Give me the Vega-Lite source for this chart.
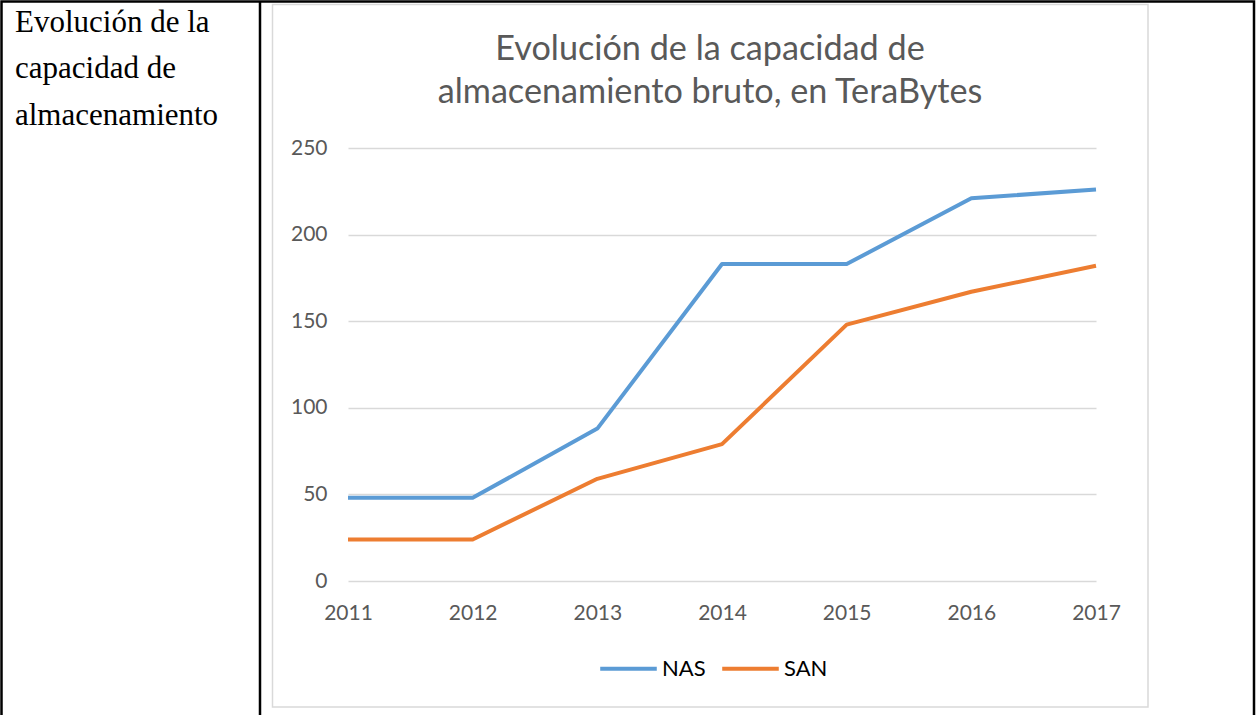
{
  "$schema": "https://vega.github.io/schema/vega-lite/v6.json",
  "width": 748,
  "height": 433,
  "autosize": "none",
  "padding": {"left": 348, "top": 148, "right": 160, "bottom": 134},
  "background": "white",
  "config": {
    "view": {"stroke": null},
    "font": "Lato",
    "axis": {"labelFont": "Lato", "labelFontSize": 21, "labelColor": "#595959", "domain": false, "ticks": false, "tickSize": 0, "title": null}
  },
  "title": {
    "text": ["Evolución de la capacidad de", "almacenamiento bruto, en TeraBytes"],
    "font": "Lato",
    "fontSize": 34.2,
    "fontWeight": "normal",
    "color": "#595959",
    "lineHeight": 43,
    "anchor": "middle",
    "dx": -12,
    "offset": -110
  },
  "layer": [
    {
      "data": {"values": [{}]},
      "mark": {"type": "rect", "fill": null, "stroke": "#000000", "strokeWidth": 2.5, "clip": false},
      "encoding": {
        "x": {"datum": 2008.2206, "type": "quantitative", "scale": {"domain": [2011, 2017], "nice": false, "zero": false}},
        "x2": {"datum": 2018.2674},
        "y": {"datum": 334.58, "type": "quantitative", "scale": {"domain": [0, 250], "nice": false}},
        "y2": {"datum": -103}
      }
    },
    {
      "data": {"values": [{}]},
      "mark": {"type": "rule", "stroke": "#000000", "strokeWidth": 2.5, "clip": false},
      "encoding": {
        "x": {"datum": 2010.2941, "type": "quantitative"},
        "y": {"datum": 334.58, "type": "quantitative"},
        "y2": {"datum": -103}
      }
    },
    {
      "data": {"values": [{}]},
      "mark": {"type": "rect", "fill": null, "stroke": "#d9d9d9", "strokeWidth": 1.5, "clip": false},
      "encoding": {
        "x": {"datum": 2010.3944, "type": "quantitative"},
        "x2": {"datum": 2017.4171},
        "y": {"datum": 332.85, "type": "quantitative"},
        "y2": {"datum": -72.75}
      }
    },
    {
      "data": {"values": [{}]},
      "mark": {"type": "text", "text": ["Evolución de la", "capacidad de", "almacenamiento"], "font": "Liberation Serif", "fontSize": 31, "color": "#000000", "align": "left", "baseline": "alphabetic", "lineHeight": 46.7, "clip": false},
      "encoding": {
        "x": {"datum": 2008.3289, "type": "quantitative"},
        "y": {"datum": 317.15, "type": "quantitative"}
      }
    },
    {
      "data": {
        "values": [
          {"year": 2011, "series": "NAS", "value": 48},
          {"year": 2012, "series": "NAS", "value": 48},
          {"year": 2013, "series": "NAS", "value": 88},
          {"year": 2014, "series": "NAS", "value": 183},
          {"year": 2015, "series": "NAS", "value": 183},
          {"year": 2016, "series": "NAS", "value": 221},
          {"year": 2017, "series": "NAS", "value": 226},
          {"year": 2011, "series": "SAN", "value": 24},
          {"year": 2012, "series": "SAN", "value": 24},
          {"year": 2013, "series": "SAN", "value": 59},
          {"year": 2014, "series": "SAN", "value": 79},
          {"year": 2015, "series": "SAN", "value": 148},
          {"year": 2016, "series": "SAN", "value": 167},
          {"year": 2017, "series": "SAN", "value": 182}
        ]
      },
      "mark": {"type": "line", "strokeWidth": 4, "strokeJoin": "round", "strokeCap": "butt"},
      "encoding": {
        "x": {
          "field": "year", "type": "quantitative",
          "axis": {"values": [2011, 2012, 2013, 2014, 2015, 2016, 2017], "format": "d", "labelFlush": false, "labelOverlap": false, "grid": false, "labelPadding": 21}
        },
        "y": {
          "field": "value", "type": "quantitative",
          "axis": {"values": [0, 50, 100, 150, 200, 250], "grid": true, "gridColor": "#d9d9d9", "gridWidth": 1.3, "labelPadding": 21}
        },
        "color": {
          "field": "series", "type": "nominal",
          "scale": {"domain": ["NAS", "SAN"], "range": ["#5B9BD5", "#ED7D31"]},
          "legend": {
            "orient": "none", "legendX": 250, "legendY": 490, "direction": "horizontal", "title": null,
            "symbolType": "stroke", "symbolSize": 3200, "symbolStrokeWidth": 4,
            "labelFont": "Lato", "labelFontSize": 22, "labelColor": "#000000",
            "labelOffset": 3, "columnPadding": 8, "padding": 0
          }
        }
      }
    }
  ]
}
